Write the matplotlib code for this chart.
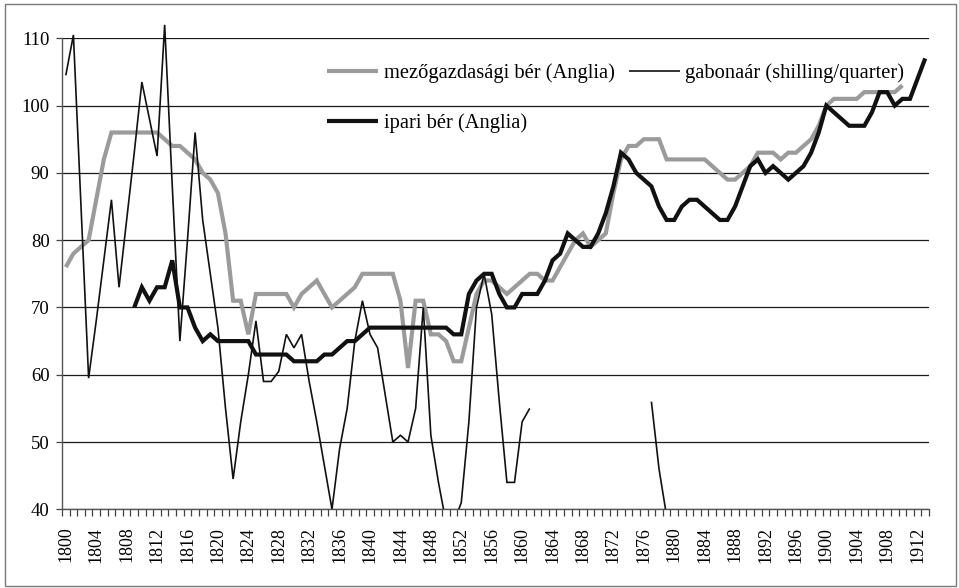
import numpy as np
import matplotlib
matplotlib.use("Agg")
import matplotlib.pyplot as plt
from matplotlib.patches import Rectangle

plt.rcParams['font.family'] = ['Liberation Serif', 'DejaVu Serif']

# index values by year
start_mezo = 1800
mezo = [76, 78, 79, 80, 86, 92, 96, 96, 96, 96,
        96, 96, 96, 95, 94, 94, 93, 92, 90, 89,
        87, 81, 71, 71, 66, 72, 72, 72, 72, 72,
        70, 72, 73, 74, 72, 70, 71, 72, 73, 75,
        75, 75, 75, 75, 71, 61, 71, 71, 66, 66,
        65, 62, 62, 67, 72, 74, 74, 73, 72, 73,
        74, 75, 75, 74, 74, 76, 78, 80, 81, 79,
        80, 81, 87, 92, 94, 94, 95, 95, 95, 92,
        92, 92, 92, 92, 92, 91, 90, 89, 89, 90,
        91, 93, 93, 93, 92, 93, 93, 94, 95, 97,
        100, 101, 101, 101, 101, 102, 102, 102, 102, 102,
        103]

start_ipari = 1809
ipari = [70,
         73, 71, 73, 73, 77, 70, 70, 67, 65, 66,
         65, 65, 65, 65, 65, 63, 63, 63, 63, 63,
         62, 62, 62, 62, 63, 63, 64, 65, 65, 66,
         67, 67, 67, 67, 67, 67, 67, 67, 67, 67,
         67, 66, 66, 72, 74, 75, 75, 72, 70, 70,
         72, 72, 72, 74, 77, 78, 81, 80, 79, 79,
         81, 84, 88, 93, 92, 90, 89, 88, 85, 83,
         83, 85, 86, 86, 85, 84, 83, 83, 85, 88,
         91, 92, 90, 91, 90, 89, 90, 91, 93, 96,
         100, 99, 98, 97, 97, 97, 99, 102, 102, 100,
         101, 101, 104, 107]

start_gabona = 1800
gabona = [104.5, 110.5, 85, 59.5, 68, 77, 86, 73, 83, 93,
          103.5, 98, 92.5, 112, 88, 65, 80, 96, 83, 75,
          67, 55, 44.5, 53, 60, 68, 59, 59, 60.5, 66,
          64, 66, 59, 53, 46.5, 40, 49, 55, 65, 71,
          66, 64, 57, 50, 51, 50, 55, 70, 51, 44,
          38, 38, 41, 53, 70, 75, 69, 56, 44, 44,
          53, 55]
start_gabona_late = 1877
gabona_late = [56, 46, 39]

first_year, last_year = 1800, 1913
label_step = 4

fig = plt.figure(figsize=(9.59, 5.88), dpi=100)
ax = fig.add_axes([62 / 959, 1 - 509.3 / 588, (929 - 62) / 959, (509.3 - 38.3) / 588])

# everything above 40 stays visible, lines may run over the top gridline
clip = Rectangle((first_year - 0.5, 40), last_year - first_year + 1, 100,
                 transform=ax.transData)


def draw(start, values, **kw):
    x = np.arange(start, start + len(values))
    ln, = ax.plot(x, values, solid_joinstyle='miter', solid_capstyle='butt', **kw)
    ln.set_clip_path(clip)
    return ln


l_mezo = draw(start_mezo, mezo, color='#9b9b9b', lw=3.0, zorder=3)
l_gab = draw(start_gabona, gabona, color='#111111', lw=1.2, zorder=4)
draw(start_gabona_late, gabona_late, color='#111111', lw=1.2, zorder=4)
l_ipari = draw(start_ipari, ipari, color='#111111', lw=3.0, zorder=5)

ax.set_xlim(first_year - 0.5, last_year + 0.5)
ax.set_ylim(40, 110)
ax.set_yticks(range(40, 111, 10))
ax.yaxis.grid(True, color='#1a1a1a', lw=0.9)
ax.set_axisbelow(True)

label_years = list(range(first_year, last_year, label_step))
ax.set_xticks(label_years)
ax.set_xticklabels([str(y) for y in label_years], rotation=90)
ax.set_xticks(np.arange(first_year - 0.5, last_year + 1), minor=True)
ax.tick_params(axis='x', which='major', length=0, pad=12.5, labelsize=13)
ax.tick_params(axis='x', which='minor', length=5, width=0.9, color='#444444', direction='out')
ax.tick_params(axis='y', length=4.5, width=0.9, color='#444444', labelsize=13.5, pad=4.5)

for side in ('top', 'right'):
    ax.spines[side].set_visible(False)
for side in ('left', 'bottom'):
    ax.spines[side].set_color('#555555')
    ax.spines[side].set_linewidth(1.0)

leg = ax.legend([l_mezo, l_ipari, l_gab],
                ['mezőgazdasági bér (Anglia)', 'ipari bér (Anglia)',
                 'gabonaár (shilling/quarter)'],
                ncol=2, frameon=False, fontsize=14.8,
                loc='upper left', bbox_to_anchor=(327 / 959, 1 - 63 / 588),
                bbox_transform=fig.transFigure,
                handlelength=2.5, handletextpad=0.25, columnspacing=0.7,
                labelspacing=1.5, borderpad=0, borderaxespad=0)

# chart border
fig.patches.append(Rectangle((5 / 959, 2 / 588), 951 / 959, 582 / 588,
                             transform=fig.transFigure, fill=False,
                             edgecolor='#7a7a7a', lw=1.0))

fig.savefig('out.png', dpi=100)
